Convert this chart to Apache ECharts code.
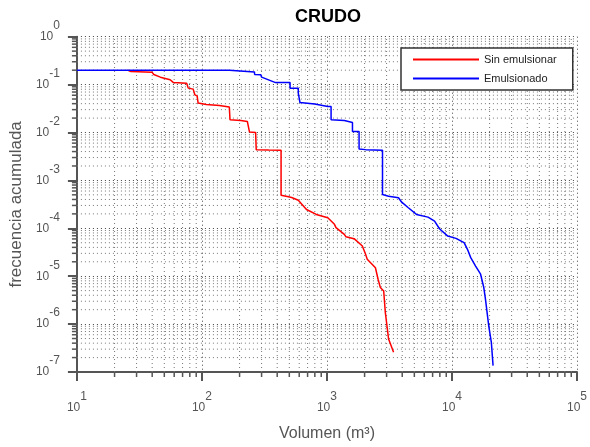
<!DOCTYPE html>
<html><head><meta charset="utf-8">
<script src="https://cdn.jsdelivr.net/npm/echarts@6/dist/echarts.min.js"></script>
<style>html,body{margin:0;padding:0;background:#fff}#c{width:590px;height:447px}</style>
</head><body><div id="c"></div>
<script>
const titleText = 'CRUDO';
const xAxisName = 'Volumen (m³)';
const yAxisName = 'frecuencia acumulada';
const seriesNames = ['Sin emulsionar', 'Emulsionado'];
const xTickExponents = ['1', '2', '3', '4', '5'];
const yTickExponents = ['-7', '-6', '-5', '-4', '-3', '-2', '-1', '0'];
const minorMultipliers = [2, 3, 4, 5, 6, 7, 8, 9];

// [volumen, frecuencia acumulada]
const sinEmulsionar = [
  [25.4, 0.2], [27.0, 0.187], [40.0, 0.180], [41.2, 0.162], [46.5, 0.143],
  [55.7, 0.126], [59.2, 0.110], [75.5, 0.107], [77.7, 0.0844], [85.1, 0.0804],
  [87.8, 0.0612], [91.5, 0.0580], [93.2, 0.0411], [108.4, 0.0385], [138, 0.0366],
  [165.6, 0.0340], [167.7, 0.01846], [204.8, 0.01786], [230.7, 0.01702], [238, 0.01622],
  [240, 0.01030], [268.8, 0.01005], [271.8, 0.00439], [342, 0.00430], [429.5, 0.00424],
  [429.5, 4.91e-4], [492, 4.55e-4], [522, 4.40e-4], [590, 3.86e-4], [686, 2.47e-4],
  [822, 1.95e-4], [1016, 1.66e-4], [1048, 1.53e-4], [1148, 1.21e-4], [1181, 1.03e-4],
  [1377, 7.47e-5], [1416, 6.68e-5], [1649, 6.08e-5], [1919, 4.26e-5], [2037, 2.86e-5],
  [2100, 2.25e-5], [2442, 1.5e-5], [2565, 8.65e-6], [2673, 5.8e-6], [2844, 4.9e-6],
  [2930, 1.75e-6], [3112, 4.87e-7], [3412, 2.58e-7]
];
const emulsionado = [
  [10, 0.2], [165.6, 0.2], [166, 0.184], [263, 0.184], [264, 0.162], [296, 0.160],
  [300, 0.143], [388, 0.110], [507, 0.110], [507, 0.0844], [590, 0.0844], [590, 0.0664],
  [608, 0.0664], [608, 0.0423], [798, 0.0392], [1016, 0.0349], [1079, 0.0349], [1079, 0.01846],
  [1377, 0.01786], [1600, 0.01622], [1600, 0.01054], [1807, 0.01054], [1807, 0.00454],
  [2037, 0.00439], [2782, 0.00424], [2782, 5.07e-4], [3112, 4.68e-4], [3733, 4.33e-4],
  [3963, 3.51e-4], [4477, 2.69e-4], [5200, 1.95e-4], [6430, 1.71e-4], [7260, 1.41e-4],
  [7943, 9.8e-5], [9250, 6.88e-5], [10760, 6.16e-5], [12500, 5.01e-5], [13300, 3.64e-5],
  [14130, 2.44e-5], [15450, 1.63e-5], [16940, 1.10e-5], [17970, 5.8e-6], [18530, 3.31e-6],
  [19680, 9.2e-7], [20650, 4.16e-7], [21320, 1.36e-7]
];

const F = '"Liberation Sans", Arial, sans-serif';
const xMin = 10, xMax = 1e5, yMin = 1e-7, yMax = 1;

// minor log positions (axis decoration only)
const xMinor = [];
for (let k = 1; k < 5; k++) minorMultipliers.forEach(m => xMinor.push([m * Math.pow(10, k), yMin]));
const yMinor = [];
for (let k = -7; k < 0; k++) minorMultipliers.forEach(m => yMinor.push([xMin, m * Math.pow(10, k)]));

function expOf(v, list) {
  const e = String(Math.round(Math.log10(v)));
  const i = list.indexOf(e);
  return i >= 0 ? list[i] : e;
}
const rich = {
  b: {fontSize: 12, color: '#555', fontFamily: F, verticalAlign: 'bottom'},
  e: {fontSize: 12, color: '#555', fontFamily: F, verticalAlign: 'top', padding: [0, 0, 11, 0]}
};

const chart = echarts.init(document.getElementById('c'), null, {renderer: 'canvas'});
chart.setOption({
  animation: false,
  backgroundColor: '#fff',
  title: {
    text: titleText, left: 290, top: 3,
    textStyle: {fontSize: 18, fontWeight: 'bold', color: '#000', fontFamily: F}
  },
  legend: {
    data: seriesNames, orient: 'vertical', left: 401, top: 48,
    padding: [6, 16, 6, 11], itemWidth: 66, itemHeight: 12, itemGap: 8,
    backgroundColor: '#fff', borderColor: '#333', borderWidth: 1.5, borderRadius: 0,
    textStyle: {fontSize: 11, color: '#222', fontFamily: F},
    itemStyle: {opacity: 0}
  },
  grid: {left: 75.3, right: 7, top: 36.7, bottom: 74, containLabel: false},
  xAxis: {
    type: 'log', logBase: 10, min: xMin, max: xMax,
    name: xAxisName, nameLocation: 'middle', nameGap: 54,
    nameTextStyle: {fontSize: 16, color: '#555', fontFamily: F},
    axisLine: {show: true, onZero: false, lineStyle: {color: '#555', width: 2}},
    axisTick: {show: true, inside: false, length: 9, lineStyle: {color: '#555', width: 2}},
    axisLabel: {
      margin: 19, formatter: v => '{b|10}{e|' + expOf(v, xTickExponents) + '}', rich: rich
    },
    splitLine: {show: true, lineStyle: {color: '#444', type: [1, 3], width: 1}}
  },
  yAxis: {
    type: 'log', logBase: 10, min: yMin, max: yMax,
    name: yAxisName, nameLocation: 'middle', nameGap: 48,
    nameTextStyle: {fontSize: 17, color: '#555', fontFamily: F},
    axisLine: {show: true, onZero: false, lineStyle: {color: '#555', width: 2}},
    axisTick: {show: true, inside: false, length: 9, lineStyle: {color: '#555', width: 2}},
    axisLabel: {
      margin: 17, padding: [0, 0, 11, 0],
      formatter: v => '{b|10}{e|' + expOf(v, yTickExponents) + '}', rich: rich
    },
    splitLine: {show: true, lineStyle: {color: '#444', type: [1, 3], width: 1}}
  },
  series: [
    {
      type: 'custom', silent: true, z: 1, data: xMinor, encode: {x: 0, y: 1},
      renderItem: function (params, api) {
        const v = api.value(0);
        const b = api.coord([v, yMin]);
        const t = api.coord([v, yMax]);
        return {type: 'group', children: [
          {type: 'line', shape: {x1: b[0], y1: b[1], x2: t[0], y2: t[1]}, style: {stroke: '#777', lineWidth: 1, lineDash: [1, 3]}},
          {type: 'line', shape: {x1: b[0], y1: b[1], x2: b[0], y2: b[1] + 5}, style: {stroke: '#555', lineWidth: 1.5}}
        ]};
      }
    },
    {
      type: 'custom', silent: true, z: 1, data: yMinor, encode: {x: 0, y: 1},
      renderItem: function (params, api) {
        const v = api.value(1);
        const l = api.coord([xMin, v]);
        const r = api.coord([xMax, v]);
        return {type: 'group', children: [
          {type: 'line', shape: {x1: l[0], y1: l[1], x2: r[0], y2: r[1]}, style: {stroke: '#777', lineWidth: 1, lineDash: [1, 3]}},
          {type: 'line', shape: {x1: l[0], y1: l[1], x2: l[0] - 5, y2: l[1]}, style: {stroke: '#555', lineWidth: 1.5}}
        ]};
      }
    },
    {
      name: seriesNames[0], type: 'line', data: sinEmulsionar, symbol: 'none', z: 3,
      lineStyle: {color: '#ff0000', width: 1.5}, itemStyle: {color: '#ff0000'}
    },
    {
      name: seriesNames[1], type: 'line', data: emulsionado, symbol: 'none', z: 3,
      lineStyle: {color: '#0000ff', width: 1.5}, itemStyle: {color: '#0000ff'}
    }
  ]
});
</script></body></html>
